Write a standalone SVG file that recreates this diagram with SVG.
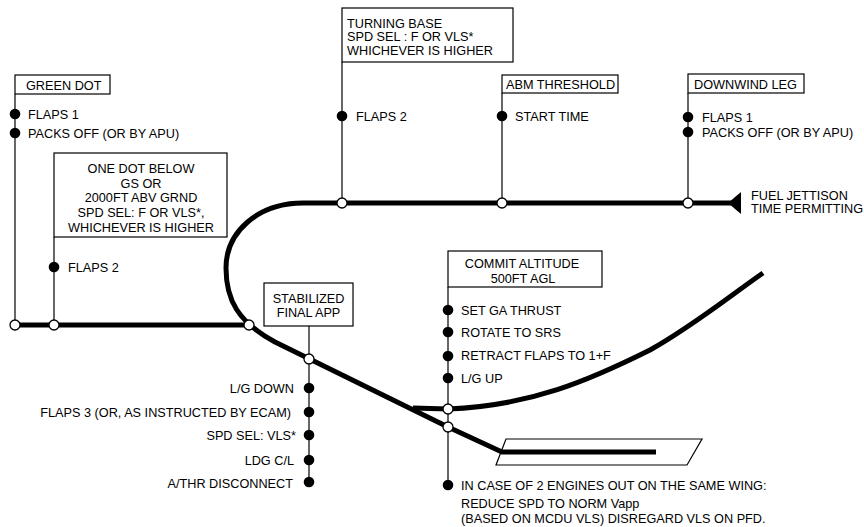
<svg xmlns="http://www.w3.org/2000/svg" width="864" height="527" viewBox="0 0 864 527">
<style>
.thick{fill:none;stroke:#000;stroke-width:5;stroke-linejoin:round}
.stem{fill:none;stroke:#000;stroke-width:1.2}
.box{fill:#fff;stroke:#000;stroke-width:1.2}
.dot{fill:#000}
.open{fill:#fff;stroke:#000;stroke-width:1.3}
text{font-family:"Liberation Sans",Arial,Helvetica,sans-serif;font-size:12.7px;fill:#000}
.c{text-anchor:middle}
.r{text-anchor:end}
</style>
<rect width="864" height="527" fill="#fff"/>
<g id="connectors">
  <polygon id="runway" points="506,439 702,439 687,465 496,465" class="stem" fill="#fff"/>
  <path class="thick" d="M 740 203 L 303 203 C 258 203 226 232 226 268 C 226 300 238 322 275 342 L 448 427 L 502 452 L 656 452"/>
  <path class="thick" d="M 15 325 L 250 325"/>
  <path class="thick" d="M 413 408 L 448 409 C 530 406 590 380 650 350 C 690 328 730 296 763 273" style="stroke-linejoin:miter;stroke-linecap:butt"/>
  <polygon points="728,203 741,192 741,214" fill="#000"/>
  <text x="751" y="200">FUEL JETTISON</text>
  <text x="751" y="213">TIME PERMITTING</text>
  <circle class="open" cx="249" cy="325" r="5"/>
</g>
<g id="green-dot">
  <path class="stem" d="M 15 94 V 325"/>
  <rect class="box" x="15" y="75" width="95" height="19"/>
  <text x="26" y="90">GREEN DOT</text>
  <circle class="dot" cx="15" cy="114" r="5.3"/>
  <circle class="dot" cx="15" cy="133" r="5.3"/>
  <text x="28" y="119">FLAPS 1</text>
  <text x="28" y="138">PACKS OFF (OR BY APU)</text>
  <circle class="open" cx="15" cy="325" r="5"/>
</g>
<g id="one-dot-below">
  <path class="stem" d="M 54 237 V 325"/>
  <rect class="box" x="54" y="153" width="173" height="84"/>
  <text class="c" x="141" y="173">ONE DOT BELOW</text>
  <text class="c" x="141" y="187.5">GS OR</text>
  <text class="c" x="141" y="202">2000FT ABV GRND</text>
  <text class="c" x="141" y="217">SPD SEL: F OR VLS*,</text>
  <text class="c" x="141" y="231.5">WHICHEVER IS HIGHER</text>
  <circle class="dot" cx="54" cy="267" r="5.3"/>
  <text x="68" y="272">FLAPS 2</text>
  <circle class="open" cx="54" cy="325" r="5"/>
</g>
<g id="turning-base">
  <path class="stem" d="M 342 62 V 203"/>
  <rect class="box" x="342" y="8" width="171" height="54"/>
  <text x="347" y="27.5">TURNING BASE</text>
  <text x="347" y="41">SPD SEL : F OR VLS*</text>
  <text x="347" y="55">WHICHEVER IS HIGHER</text>
  <circle class="dot" cx="342" cy="116" r="5.3"/>
  <text x="356" y="121">FLAPS 2</text>
  <circle class="open" cx="342" cy="203" r="5"/>
</g>
<g id="abm-threshold">
  <path class="stem" d="M 502 93 V 203"/>
  <rect class="box" x="502" y="75" width="116" height="18"/>
  <text x="506" y="89">ABM THRESHOLD</text>
  <circle class="dot" cx="502" cy="116" r="5.3"/>
  <text x="515" y="121">START TIME</text>
  <circle class="open" cx="502" cy="203" r="5"/>
</g>
<g id="downwind-leg">
  <path class="stem" d="M 688 93 V 203"/>
  <rect class="box" x="688" y="74" width="116" height="19"/>
  <text x="694" y="88.5">DOWNWIND LEG</text>
  <circle class="dot" cx="688" cy="117" r="5.3"/>
  <circle class="dot" cx="688" cy="132" r="5.3"/>
  <text x="702" y="122">FLAPS 1</text>
  <text x="702" y="137">PACKS OFF (OR BY APU)</text>
  <circle class="open" cx="688" cy="203" r="5"/>
</g>
<g id="stabilized-final-app">
  <path class="stem" d="M 309 326 V 482"/>
  <rect class="box" x="264" y="283" width="89" height="43"/>
  <text class="c" x="308.5" y="303">STABILIZED</text>
  <text class="c" x="308.5" y="317">FINAL APP</text>
  <circle class="dot" cx="309" cy="388" r="5.3"/>
  <circle class="dot" cx="309" cy="412" r="5.3"/>
  <circle class="dot" cx="309" cy="435" r="5.3"/>
  <circle class="dot" cx="309" cy="460" r="5.3"/>
  <circle class="dot" cx="309" cy="482" r="5.3"/>
  <text class="r" x="294" y="393">L/G DOWN</text>
  <text class="r" x="291" y="417">FLAPS 3 (OR, AS INSTRUCTED BY ECAM)</text>
  <text class="r" x="296" y="440">SPD SEL: VLS*</text>
  <text class="r" x="294" y="465">LDG C/L</text>
  <text class="r" x="293" y="488">A/THR DISCONNECT</text>
  <circle class="open" cx="309" cy="359" r="5"/>
</g>
<g id="commit-altitude">
  <path class="stem" d="M 448 287 V 485"/>
  <rect class="box" x="448" y="251" width="154" height="36"/>
  <text class="c" x="522" y="268">COMMIT ALTITUDE</text>
  <text class="c" x="523" y="283">500FT AGL</text>
  <circle class="dot" cx="448" cy="310" r="5.3"/>
  <circle class="dot" cx="448" cy="332" r="5.3"/>
  <circle class="dot" cx="448" cy="356" r="5.3"/>
  <circle class="dot" cx="448" cy="378" r="5.3"/>
  <circle class="dot" cx="448" cy="485" r="5.3"/>
  <text x="461" y="315">SET GA THRUST</text>
  <text x="461" y="337">ROTATE TO SRS</text>
  <text x="461" y="360">RETRACT FLAPS TO 1+F</text>
  <text x="461" y="383">L/G UP</text>
  <text x="461" y="490">IN CASE OF 2 ENGINES OUT ON THE SAME WING:</text>
  <text x="461" y="508">REDUCE SPD TO NORM Vapp</text>
  <text x="461" y="523">(BASED ON MCDU VLS) DISREGARD VLS ON PFD.</text>
  <circle class="open" cx="448" cy="409" r="5"/>
  <circle class="open" cx="448" cy="427" r="5"/>
</g>
</svg>
